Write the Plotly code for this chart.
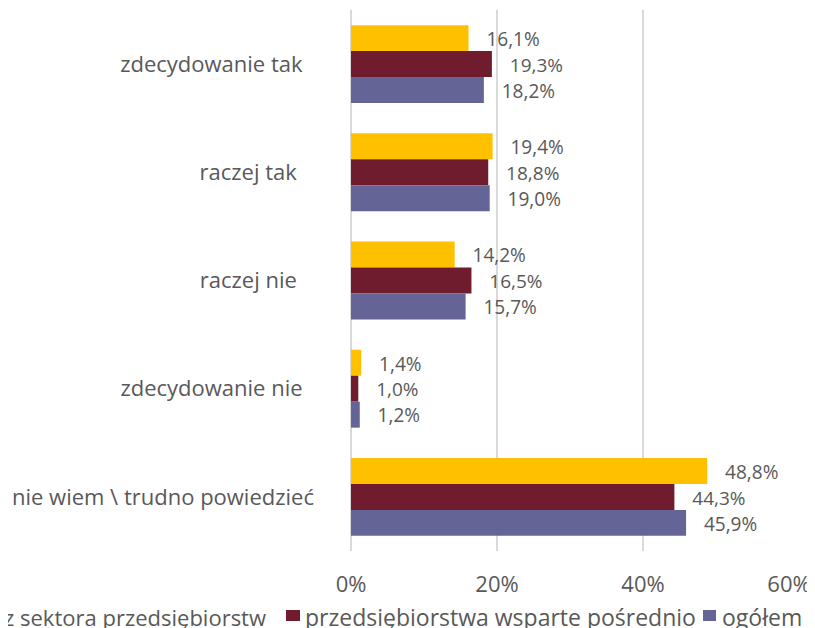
import plotly.graph_objects as go

categories = ["zdecydowanie tak", "raczej tak", "raczej nie", "zdecydowanie nie",
              "nie wiem \\ trudno powiedzieć"]
series_names = ["z sektora przedsiębiorstw",
                "przedsiębiorstwa wsparte pośrednio", "ogółem"]
s_sektor = [16.1, 19.4, 14.2, 1.4, 48.8]
s_posrednio = [19.3, 18.8, 16.5, 1.0, 44.3]
s_ogolem = [18.2, 19.0, 15.7, 1.2, 45.9]
colors = ["#FFC000", "#6F1D2E", "#646497"]
x_ticks = [0, 20, 40, 60]
x_tick_labels = ["0%", "20%", "40%", "60%"]

# styling: trailing padding (non-breaking spaces) after each category label
label_pad = [2, 3, 3, 2, 0]

FONT = "Open Sans"
GREY = "#595959"
FS = 22

W, H = 815, 628
OFF = 8  # page body margin
L, R, T, B = 343, 34, 2, 85
PW, PH = W - L - R, H - T - B


def px(x_page):
    return (x_page - OFF - L) / PW


def py(y_page):
    return (H - B - (y_page - OFF)) / PH


fig = go.Figure()
for name, vals, col in zip(series_names, [s_sektor, s_posrednio, s_ogolem], colors):
    fig.add_trace(go.Bar(
        y=categories, x=vals, name=name, orientation="h",
        marker=dict(color=col, line=dict(width=0)),
        texttemplate="\u00a0\u00a0\u00a0%{x:.1f}%", textposition="outside",
        textfont=dict(family=FONT, size=FS, color=GREY),
        cliponaxis=False, showlegend=False,
    ))

# manual legend in a single row; the first marker sits beyond the left edge
text_y = 617
mark_top, mark_bot = 610, 621
# (series index, marker left x, marker width, text left x, font size)
items = [(0, -22, 13, 3, 22), (1, 286, 14, 304, 23), (2, 703, 13, 721, 23)]
for idx, mx, mw, tx, fs in items:
    fig.add_shape(type="rect", xref="paper", yref="paper",
                  x0=px(mx), x1=px(mx + mw), y0=py(mark_bot), y1=py(mark_top),
                  fillcolor=colors[idx], line=dict(width=0))
    fig.add_annotation(x=px(tx), y=py(text_y), xref="paper", yref="paper",
                       text=series_names[idx], showarrow=False, xanchor="left",
                       yanchor="middle", borderpad=0,
                       font=dict(family=FONT, size=fs, color=GREY))

fig.update_layout(
    width=W, height=H,
    paper_bgcolor="white", plot_bgcolor="white",
    barmode="group", bargap=0.28, bargroupgap=0,
    separators=", ",
    margin=dict(l=L, r=R, t=T, b=B, autoexpand=False),
    font=dict(family=FONT, size=FS, color=GREY),
    xaxis=dict(range=[0, 60], tickvals=x_ticks, ticktext=x_tick_labels,
               showgrid=True, gridcolor="#D9D9D9", gridwidth=2,
               zeroline=True, zerolinecolor="#D9D9D9", zerolinewidth=2,
               showline=False, ticklabelstandoff=18, automargin=False,
               tickfont=dict(family=FONT, size=FS, color=GREY)),
    yaxis=dict(autorange="reversed", showgrid=False, showline=False,
               tickvals=categories,
               ticktext=[c + "\u00a0" * p for c, p in zip(categories, label_pad)],
               ticklabelstandoff=36, automargin=False,
               tickfont=dict(family=FONT, size=FS, color=GREY)),
    showlegend=False,
)

fig.write_html("out.html")
